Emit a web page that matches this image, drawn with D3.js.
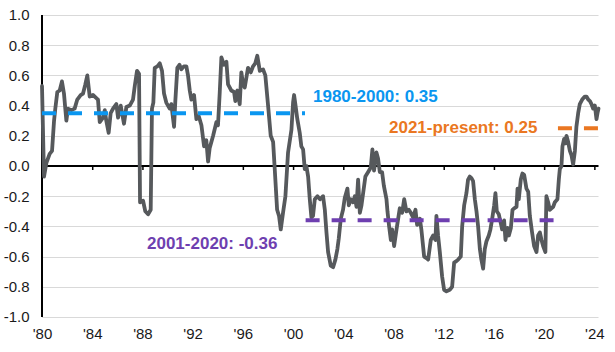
<!DOCTYPE html>
<html><head><meta charset="utf-8">
<script src="https://cdn.jsdelivr.net/npm/d3@7"></script>
<style>body{margin:0;background:#fff}svg{display:block}</style>
</head><body><svg id="c" width="615" height="352"></svg>
<script>
// ---- data ----
const dates = [1980.00,1980.16,1980.35,1980.61,1980.80,1980.96,1981.06,1981.22,1981.41,1981.59,1981.75,1981.94,1982.07,1982.34,1982.60,1982.81,1983.08,1983.27,1983.45,1983.61,1983.80,1984.06,1984.33,1984.46,1984.60,1984.86,1985.00,1985.12,1985.31,1985.47,1985.66,1985.92,1986.06,1986.27,1986.53,1986.72,1986.99,1987.25,1987.39,1987.57,1987.73,1987.81,1988.05,1988.23,1988.45,1988.66,1988.76,1988.87,1988.98,1989.19,1989.38,1989.56,1989.72,1989.90,1990.17,1990.30,1990.52,1990.62,1990.78,1990.95,1991.10,1991.30,1991.50,1991.63,1991.77,1991.90,1992.11,1992.30,1992.49,1992.70,1992.91,1993.09,1993.23,1993.36,1993.63,1993.89,1994.02,1994.16,1994.29,1994.50,1994.69,1994.82,1995.08,1995.30,1995.40,1995.56,1995.75,1995.88,1996.02,1996.15,1996.41,1996.63,1996.81,1996.99,1997.15,1997.35,1997.61,1997.79,1998.01,1998.22,1998.41,1998.54,1998.73,1998.88,1999.02,1999.20,1999.39,1999.60,1999.87,2000.00,2000.08,2000.18,2000.34,2000.53,2000.66,2000.80,2000.93,2001.06,2001.20,2001.33,2001.46,2001.59,2001.73,2001.94,2002.15,2002.39,2002.53,2002.66,2002.79,2003.00,2003.19,2003.37,2003.53,2003.64,2003.80,2003.98,2004.12,2004.33,2004.44,2004.60,2004.78,2004.92,2005.05,2005.18,2005.32,2005.45,2005.58,2005.76,2005.98,2006.19,2006.32,2006.45,2006.64,2006.77,2006.91,2007.09,2007.23,2007.44,2007.52,2007.65,2007.79,2007.89,2008.05,2008.24,2008.37,2008.50,2008.69,2008.85,2009.03,2009.22,2009.38,2009.56,2009.75,2009.88,2010.10,2010.22,2010.44,2010.62,2010.76,2010.97,2011.16,2011.34,2011.42,2011.55,2011.69,2011.87,2012.03,2012.22,2012.48,2012.67,2012.83,2013.01,2013.15,2013.36,2013.47,2013.63,2013.81,2013.94,2014.08,2014.21,2014.34,2014.48,2014.61,2014.74,2014.88,2015.00,2015.14,2015.27,2015.40,2015.59,2015.72,2015.86,2016.02,2016.12,2016.23,2016.39,2016.55,2016.65,2016.81,2016.92,2017.08,2017.19,2017.35,2017.48,2017.61,2017.80,2017.88,2017.98,2018.14,2018.27,2018.41,2018.59,2018.73,2018.86,2019.04,2019.20,2019.39,2019.52,2019.66,2019.79,2019.92,2020.10,2020.18,2020.32,2020.45,2020.72,2020.85,2021.06,2021.17,2021.25,2021.38,2021.46,2021.59,2021.70,2021.78,2021.91,2022.05,2022.18,2022.31,2022.45,2022.57,2022.71,2022.84,2023.03,2023.24,2023.37,2023.51,2023.65,2023.77,2023.90,2024.04,2024.17,2024.25,2024.33];
const values = [0.53,-0.07,0.02,0.08,0.10,0.30,0.38,0.49,0.50,0.56,0.48,0.30,0.38,0.37,0.38,0.44,0.47,0.48,0.54,0.60,0.46,0.47,0.45,0.44,0.29,0.32,0.37,0.30,0.22,0.35,0.38,0.41,0.32,0.40,0.28,0.39,0.40,0.44,0.53,0.63,0.61,-0.24,-0.23,-0.30,-0.32,-0.29,0.38,0.42,0.65,0.66,0.68,0.63,0.48,0.42,0.38,0.41,0.26,0.43,0.65,0.67,0.64,0.66,0.66,0.60,0.50,0.44,0.47,0.31,0.33,0.27,0.13,0.17,0.03,0.12,0.20,0.29,0.27,0.49,0.72,0.67,0.69,0.54,0.50,0.49,0.43,0.50,0.41,0.62,0.54,0.52,0.65,0.62,0.66,0.68,0.73,0.63,0.64,0.60,0.40,0.20,0.16,-0.02,-0.29,-0.33,-0.42,-0.31,-0.20,0.09,0.24,0.42,0.47,0.41,0.31,0.22,0.13,0.11,-0.02,0.00,-0.07,-0.22,-0.34,-0.33,-0.22,-0.20,-0.22,-0.20,-0.29,-0.44,-0.57,-0.66,-0.67,-0.62,-0.55,-0.48,-0.35,-0.29,-0.21,-0.15,-0.26,-0.22,-0.24,-0.20,-0.27,-0.09,-0.31,-0.26,-0.18,-0.07,-0.04,-0.01,0.11,-0.03,0.09,0.05,-0.04,-0.04,-0.13,-0.22,-0.30,-0.40,-0.49,-0.42,-0.53,-0.42,-0.35,-0.28,-0.31,-0.22,-0.30,-0.29,-0.31,-0.34,-0.29,-0.39,-0.35,-0.42,-0.60,-0.61,-0.62,-0.49,-0.46,-0.49,-0.33,-0.46,-0.57,-0.73,-0.82,-0.83,-0.82,-0.80,-0.64,-0.63,-0.62,-0.60,-0.40,-0.26,-0.18,-0.09,-0.07,-0.08,-0.10,-0.22,-0.30,-0.40,-0.55,-0.62,-0.68,-0.55,-0.50,-0.46,-0.42,-0.35,-0.26,-0.18,-0.30,-0.32,-0.38,-0.42,-0.36,-0.49,-0.41,-0.46,-0.41,-0.29,-0.28,-0.27,-0.15,-0.22,-0.09,-0.05,-0.06,-0.15,-0.17,-0.33,-0.44,-0.53,-0.57,-0.46,-0.44,-0.49,-0.53,-0.57,-0.20,-0.24,-0.29,-0.27,-0.24,-0.22,-0.09,-0.02,0.00,0.13,0.18,0.15,0.20,0.16,0.10,0.07,0.01,0.10,0.26,0.35,0.41,0.44,0.46,0.46,0.44,0.43,0.41,0.38,0.40,0.31,0.35,0.38];

const yTicks = [-1.0,-0.8,-0.6,-0.4,-0.2,0.0,0.2,0.4,0.6,0.8,1.0];
const xTickYears = [1980,1984,1988,1992,1996,2000,2004,2008,2012,2016,2020,2024];
const xTickLabels = ["'80","'84","'88","'92","'96","'00","'04","'08","'12","'16","'20","'24"];

const periodLabels = ["1980-2000: 0.35","2001-2020: -0.36","2021-present: 0.25"];
const periodMeans = [0.35,-0.36,0.25];
const periodStart = [1980.0,2001.0,2021.1];
const periodEnd = [2000.95,2020.75,2024.33];

// ---- styles ----
const periodColors = ["#0A96F0","#6E3FB0","#EA7722"];
const labelPos = [[313,102],[147,249],[389,133]];

const svg = d3.select("#c");
const x = d3.scaleLinear().domain([1980,2024.33]).range([42,598.5]);
const y = d3.scaleLinear().domain([-1,1]).range([317,15]);
const font = "'Liberation Sans', Arial, sans-serif";

// gridlines
svg.append("g").selectAll("line").data(yTicks.filter(v=>v!==0)).join("line")
  .attr("x1",x(1980)).attr("x2",x(2024.33))
  .attr("y1",d=>Math.round(y(d))+0.5).attr("y2",d=>Math.round(y(d))+0.5)
  .attr("stroke","#d9d9d9").attr("stroke-width",1);

// y labels
svg.append("g").selectAll("text").data(yTicks).join("text")
  .attr("x",29.5).attr("y",d=>y(d)).attr("dy","0.36em")
  .attr("text-anchor","end").attr("font-family",font).attr("font-size",15)
  .attr("fill","#1a1a1a").text(d=>d.toFixed(1));

// x axis at zero
const xAxis = d3.axisBottom(x).tickValues(xTickYears).tickSize(4)
  .tickFormat((d,i)=>xTickLabels[i]);
const gx = svg.append("g").attr("transform",`translate(0,${y(0)})`).call(xAxis);
gx.select(".domain").attr("stroke","#000").attr("stroke-width",2)
  .attr("d",`M${x(1980)},0H${x(2024.33)}`);
gx.selectAll(".tick line").attr("stroke","#000").attr("stroke-width",1.5);
gx.selectAll(".tick text").attr("font-family",font).attr("font-size",15)
  .attr("fill","#1a1a1a").attr("y",y(-1)-y(0)+11).attr("dy","0.71em");

// y axis line
svg.append("line").attr("x1",x(1980)).attr("x2",x(1980))
  .attr("y1",y(1)).attr("y2",y(-1)).attr("stroke","#000").attr("stroke-width",2);

// data line
const pts = dates.map((d,i)=>[d,values[i]]);
svg.append("path").datum(pts)
  .attr("d",d3.line().x(d=>x(d[0])).y(d=>y(d[1])))
  .attr("fill","none").attr("stroke","#56595C").attr("stroke-width",3.8)
  .attr("stroke-linejoin","round").attr("stroke-linecap","round");

// period averages
periodMeans.forEach((m,i)=>{
  svg.append("line").attr("x1",x(periodStart[i])).attr("x2",x(periodEnd[i]))
    .attr("y1",y(m)).attr("y2",y(m))
    .attr("stroke",periodColors[i]).attr("stroke-width",4)
    .attr("stroke-dasharray","14,12");
  svg.append("text").attr("x",labelPos[i][0]).attr("y",labelPos[i][1])
    .attr("font-family",font).attr("font-size",17).attr("font-weight","bold")
    .attr("fill",periodColors[i]).text(periodLabels[i]);
});
</script></body></html>
